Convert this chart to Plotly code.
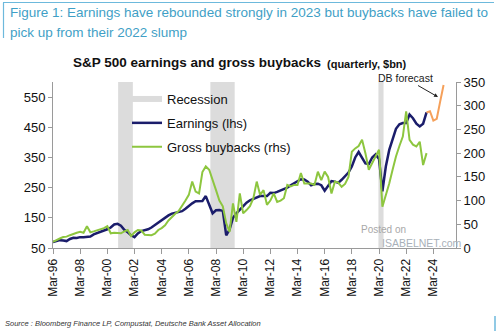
import plotly.graph_objects as go

# ---------------- data ----------------
quarter_suffix = ["03-31", "06-30", "09-30", "12-31"]
dates = [f"{y}-{q}" for y in range(1996, 2024) for q in quarter_suffix][:111]  # Mar-96 .. Sep-23

earnings = [
    70, 74, 76, 75,      # 1996
    73, 80, 84, 83,      # 1997
    86, 86, 87, 88,      # 1998
    95, 100, 104, 108,   # 1999
    112, 118, 128, 130,  # 2000
    124, 110, 102, 92,   # 2001
    86, 98, 106, 108,    # 2002
    112, 118, 126, 136,  # 2003
    144, 151, 158, 164,  # 2004
    167, 170, 172, 180,  # 2005
    190, 198, 205, 206,  # 2006
    206, 222, 195, 165,  # 2007
    175, 176, 173, 92,   # 2008
    111, 150, 165, 178,  # 2009
    190, 200, 208, 212,  # 2010
    218, 222, 222, 222,  # 2011
    233, 232, 236, 240,  # 2012
    244, 250, 258, 264,  # 2013
    270, 278, 277, 270,  # 2014
    258, 262, 263, 258,  # 2015
    240, 258, 272, 270,  # 2016
    266, 276, 288, 300,  # 2017
    320, 350, 368, 350,  # 2018
    330, 328, 350, 360,  # 2019
    345, 238, 320, 375,  # 2020
    410, 445, 460, 464,  # 2021
    464, 492, 480, 462,  # 2022
    453, 462, 499,       # 2023
]

buybacks = [
    13, 17, 20, 23,      # 1996
    24, 27, 30, 32,      # 1997
    34, 32, 46, 33,      # 1998
    35, 37, 39, 42,      # 1999
    46, 31, 32, 32,      # 2000
    31, 35, 38, 25,      # 2001
    33, 38, 37, 28,      # 2002
    27, 27, 30, 38,      # 2003
    42, 48, 58, 66,      # 2004
    72, 78, 88, 100,     # 2005
    112, 140, 119, 115,  # 2006
    160, 172, 165, 145,  # 2007
    122, 100, 88, 52,    # 2008
    34, 94, 55, 115,     # 2009
    73, 80, 88, 105,     # 2010
    140, 112, 122, 91,   # 2011
    100, 115, 97, 100,   # 2012
    105, 133, 130, 133,  # 2013
    133, 158, 136, 136,  # 2014
    136, 133, 161, 143,  # 2015
    161, 150, 115, 140,  # 2016
    138, 129, 135, 150,  # 2017
    203, 210, 215, 228,  # 2018
    200, 165, 180, 195,  # 2019
    207, 87, 110, 136,   # 2020
    165, 193, 215, 235,  # 2021
    288, 228, 218, 214,  # 2022
    224, 175, 200,       # 2023
]

forecast_dates = ["2023-09-30", "2023-12-31", "2024-03-31", "2024-06-30", "2024-09-30", "2024-12-31"]
forecast_earnings = [499, 503, 472, 478, 535, 590]

recessions = [("2001-01-15", "2002-02-15"), ("2007-11-01", "2009-08-15"), ("2020-03-15", "2020-07-31")]

tick_dates = [f"{y}-03-31" for y in range(1996, 2025, 2)]
tick_labels = [f"Mar-{str(y)[2:]}" for y in range(1996, 2025, 2)]
left_ticks = [50, 150, 250, 350, 450, 550]
right_ticks = [0, 50, 100, 150, 200, 250, 300, 350]

# ---------------- layout helpers ----------------
L, R, T, B = 53, 456, 82, 248
W, H = R - L, B - T
def px(x):
    return (x - L) / W
def py(y):
    return (B - y) / H

FONT = "Liberation Sans, Arial, sans-serif"
TEAL = "#3f9fc6"
NAVY = "#1b1d6b"
GREEN = "#8dc63f"
ORANGE = "#f5a05a"
GREY = "#9a9a9a"

fig = go.Figure()

fig.add_trace(go.Scatter(x=[None], y=[None], mode="none", fill="toself",
                         fillcolor="#dcdcdc", name="Recession", legendgroup="a"))
fig.add_trace(go.Scatter(x=dates, y=earnings, mode="lines", name="Earnings (lhs)",
                         line=dict(color=NAVY, width=2.5), legendgroup="b"))
fig.add_trace(go.Scatter(x=dates, y=buybacks, mode="lines", name="Gross buybacks (rhs)",
                         line=dict(color=GREEN, width=2), yaxis="y2", legendgroup="c"))
fig.add_trace(go.Scatter(x=forecast_dates, y=forecast_earnings, mode="lines",
                         line=dict(color=ORANGE, width=2), showlegend=False))

shapes = []
for s, e in recessions:
    shapes.append(dict(type="rect", xref="x", yref="paper", x0=s, x1=e, y0=0, y1=1,
                       fillcolor="#dcdcdc", line=dict(width=0), layer="below"))
# header frame
shapes.append(dict(type="line", xref="paper", yref="paper", x0=px(3), x1=px(494),
                   y0=py(2.5), y1=py(2.5), line=dict(color="#6db9dc", width=1.2)))
shapes.append(dict(type="line", xref="paper", yref="paper", x0=px(3.5), x1=px(3.5),
                   y0=py(2.5), y1=py(38), line=dict(color="#6db9dc", width=1.2)))
shapes.append(dict(type="line", xref="paper", yref="paper", x0=px(495), x1=px(495),
                   y0=py(316), y1=py(331), line=dict(color="#6db9dc", width=1.5)))

annotations = [
    dict(text="Figure 1: Earnings have rebounded strongly in 2023 but buybacks have failed to",
         x=px(8), y=py(13), xanchor="left", yanchor="middle",
         font=dict(family=FONT, size=13.5, color=TEAL)),
    dict(text="pick up from their 2022 slump",
         x=px(8), y=py(32), xanchor="left", yanchor="middle",
         font=dict(family=FONT, size=13.5, color=TEAL)),
    dict(text="<b>S&P 500 earnings and gross buybacks</b>",
         x=px(71), y=py(63), xanchor="left", yanchor="middle",
         font=dict(family=FONT, size=13.5, color="#111111")),
    dict(text="<b>(quarterly, $bn)</b>",
         x=px(325), y=py(64), xanchor="left", yanchor="middle",
         font=dict(family=FONT, size=11, color="#111111")),
    dict(text="DB forecast", x=px(438), y=py(97), ax=405 - 438, ay=78 - 97,
         showarrow=True, arrowhead=2, arrowsize=0.8, arrowwidth=1, arrowcolor="#222222",
         font=dict(family=FONT, size=10.5, color="#222222")),
    dict(text="<i>Source : Bloomberg Finance LP, Compustat, Deutsche Bank Asset Allocation</i>",
         x=px(3), y=py(323), xanchor="left", yanchor="middle",
         font=dict(family=FONT, size=7.5, color="#333333")),
    dict(text="Posted on", x=px(383), y=py(229), xanchor="center", yanchor="middle",
         font=dict(family=FONT, size=10, color="#a8a8a8")),
    dict(text="ISABELNET.com", x=px(380), y=py(243), xanchor="left", yanchor="middle",
         font=dict(family=FONT, size=10.5, color="#a8b0b8")),
]
for a in annotations:
    a.setdefault("showarrow", False)
    a.setdefault("xref", "paper")
    a.setdefault("yref", "paper")

axis_common = dict(showline=True, linecolor=GREY, linewidth=1, ticks="outside",
                   tickcolor=GREY, ticklen=4, showgrid=False, zeroline=False,
                   tickfont=dict(family=FONT, size=13, color="#111111"))

fig.update_layout(
    width=500, height=331, autosize=False,
    margin=dict(l=L, r=500 - R, t=T, b=331 - B),
    paper_bgcolor="white", plot_bgcolor="white",
    font=dict(family=FONT, color="#111111"),
    shapes=shapes, annotations=annotations,
    xaxis=dict(axis_common, type="date", range=["1996-03-31", "2025-11-30"],
               tickvals=tick_dates, ticktext=tick_labels, tickangle=-90, ticklen=5,
               tickfont=dict(family=FONT, size=12, color="#111111")),
    yaxis=dict(axis_common, range=[50, 600], tickvals=left_ticks),
    yaxis2=dict(axis_common, range=[0, 350], tickvals=right_ticks, overlaying="y", side="right"),
    legend=dict(x=px(127), y=py(84), xanchor="left", yanchor="top",
                bgcolor="rgba(0,0,0,0)", font=dict(family=FONT, size=13, color="#111111"),
                traceorder="grouped", tracegroupgap=4, itemwidth=30),
    showlegend=True,
)

fig.write_html("out.html")
